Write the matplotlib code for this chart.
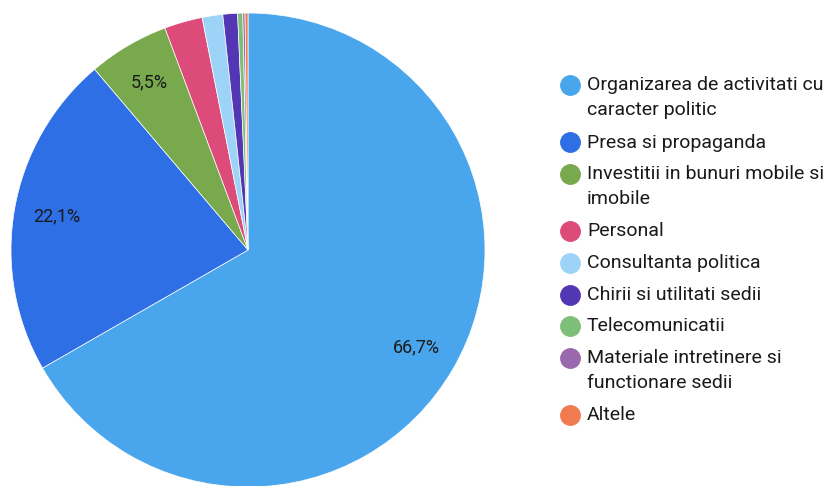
import matplotlib.pyplot as plt
from matplotlib.lines import Line2D

categories = [
    "Organizarea de activitati cu\ncaracter politic",
    "Presa si propaganda",
    "Investitii in bunuri mobile si\nimobile",
    "Personal",
    "Consultanta politica",
    "Chirii si utilitati sedii",
    "Telecomunicatii",
    "Materiale intretinere si\nfunctionare sedii",
    "Altele",
]
values = [66.7, 22.1, 5.5, 2.6, 1.4, 1.0, 0.35, 0.15, 0.2]
colors = ["#4aa6ec", "#2e6fe6", "#78a94d", "#dd4b7b", "#9dd3f7",
          "#5336b3", "#7dbf79", "#9a69ad", "#f07b50"]

plt.rcParams['font.family'] = ['Roboto', 'DejaVu Sans']

W, H = 825, 486
fig = plt.figure(figsize=(W / 100, H / 100), dpi=100)

cx, cy, r = 248, 250, 237
ax = fig.add_axes([(cx - r) / W, (H - cy - r) / H, 2 * r / W, 2 * r / H])


def fmt(p):
    return f"{p:.1f}%".replace(".", ",") if p >= 5 else ""


wedges, texts, autotexts = ax.pie(
    values, colors=colors, startangle=90, counterclock=False,
    autopct=fmt, pctdistance=0.82,
    wedgeprops=dict(edgecolor="white", linewidth=0.5),
    textprops=dict(fontsize=13, color="#1a1a1a"),
)
ax.set_xlim(-1, 1)
ax.set_ylim(-1, 1)
ax.axis("off")

# legend, drawn by hand so the marker sits on the first line
y = 85
for label, col in zip(categories, colors):
    lines = label.split("\n")
    fig.add_artist(Line2D([570 / W], [1 - y / H], marker="o", markersize=14,
                          color=col, transform=fig.transFigure))
    for k, line in enumerate(lines):
        fig.text(587 / W, 1 - (y + k * 25) / H, line, fontsize=14,
                 color="#1a1a1a", va="center", ha="left")
    y += 31.5 + 26 * (len(lines) - 1)

fig.savefig("out.png", dpi=100)
